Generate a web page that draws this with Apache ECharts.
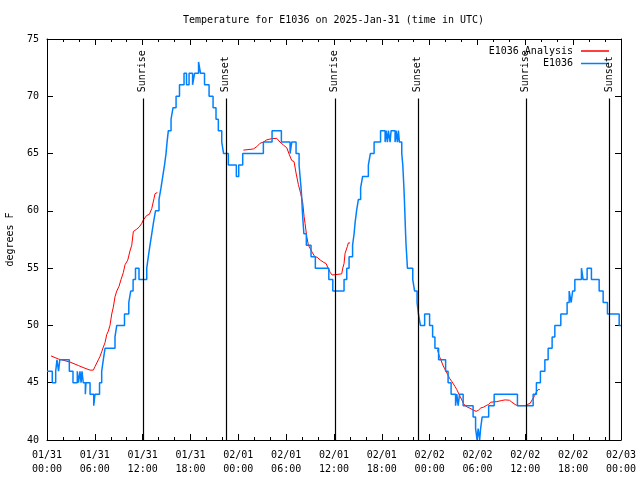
<!DOCTYPE html>
<html><head><meta charset="utf-8">
<script src="https://cdn.jsdelivr.net/npm/echarts@6/dist/echarts.min.js"></script>
<style>html,body{margin:0;padding:0;background:#fff}#c{width:640px;height:480px}</style>
</head><body><div id="c"></div>
<script>
// hours since 2025-01-31 00:00 UTC
const obsHours = [0,0.66,1.09,1.25,1.45,1.6,2.80,3.26,3.80,3.95,4.14,4.27,4.39,4.55,4.81,4.89,5.40,5.86,6.02,6.59,6.86,7.06,7.28,8.53,8.75,9.72,10.26,10.50,10.80,11.10,11.54,12.51,12.71,12.92,13.14,13.36,13.61,14.05,14.30,14.52,14.74,14.93,15.06,15.22,15.56,15.81,16.19,16.62,17.19,17.50,17.82,18.26,18.51,19.01,19.26,19.76,20.33,20.83,21.20,21.49,21.92,22.15,22.75,23.75,24.05,24.55,27.14,28.23,29.40,30.49,30.70,31.24,31.62,31.74,31.87,31.96,32.03,32.12,32.22,32.53,33.12,33.66,35.35,35.85,37.26,37.60,37.89,38.33,38.52,38.65,38.83,39.06,39.34,39.59,40.31,40.56,41.03,41.84,42.41,42.53,42.70,42.82,43.04,43.16,43.66,43.79,43.95,44.08,44.20,44.50,44.63,44.70,44.77,44.83,44.88,44.93,44.98,45.04,45.13,45.21,45.88,46.11,46.42,46.59,46.84,47.37,47.99,48.37,48.66,49.12,50.00,50.31,50.69,51.25,51.40,51.57,51.75,52.20,53.45,53.76,53.95,54.08,54.27,54.39,54.58,55.40,56.09,59.01,60.98,61.39,61.89,62.45,62.86,63.36,63.70,64.45,65.24,65.50,65.75,65.93,66.21,67.04,67.25,67.75,68.29,69.26,69.76,70.30,71.77,72.0];
const obsTemps = [46,45,46,47,46,47,46,45,46,45,46,45,46,45,44,45,44,43,44,45,46,47,48,49,50,51,52,53,54,55,54,55,56,57,58,59,60,61,62,63,64,65,66,67,68,69,70,71,72,71,72,71,72,73,72,71,70,69,68,67,66,65,64,63,64,65,66,67,66,65,66,65,64,63,62,61,60,59,58,57,56,55,54,53,54,55,56,57,58,59,60,61,62,63,64,65,66,67,66,67,66,67,66,67,66,67,66,67,66,65,64,63,62,61,60,59,58,57,56,55,54,53,52,51,50,51,50,49,48,47,46,45,44,43,44,43,44,43,42,41,40,41,40,41,42,43,44,43,44,45,46,47,48,49,50,51,52,53,52,53,54,55,54,55,54,53,52,51,50,50];

const anaHours = [0.50,1.42,1.84,2.89,3.93,4.77,5.40,5.81,6.02,6.44,6.65,6.86,7.06,7.28,7.49,7.69,7.90,8.12,8.32,8.53,8.75,9.03,9.28,9.57,9.79,10.13,10.41,10.63,10.83,11.25,11.58,11.88,12.08,12.51,12.84,13.14,13.43,13.55,13.84,
  19.0,
  24.63,25.88,26.31,26.73,27.14,27.57,28.19,28.82,29.23,29.65,30.08,30.40,30.70,30.99,31.24,31.53,31.83,32.08,32.25,32.37,32.58,32.79,33.25,33.59,33.88,34.29,34.72,35.01,35.26,35.55,35.76,36.97,37.10,37.26,37.39,37.52,37.68,37.80,38.02,
  43.0,
  48.97,49.22,49.40,49.65,49.85,50.06,50.28,50.48,50.78,50.98,51.19,51.40,51.61,51.82,52.03,52.23,52.45,52.74,53.07,53.49,53.83,54.12,54.42,54.74,55.08,55.37,55.67,56.42,57.05,57.47,58.01,58.31,58.72,59.01,59.97,60.26,60.60,60.76,60.98,61.19,61.39,61.61,61.82];
const anaTemps = [47.34,47.07,47.0,46.8,46.5,46.26,46.1,46.1,46.4,47.0,47.3,47.7,48.1,48.5,49.2,49.5,50.0,51.0,51.6,52.5,53.0,53.4,54.0,54.6,55.3,55.7,56.5,57.0,58.2,58.4,58.6,58.9,59.2,59.6,59.7,60.2,61.1,61.5,61.6,
  null,
  65.3,65.4,65.6,65.9,66.0,66.2,66.3,66.33,66.0,65.75,65.5,64.9,64.4,64.3,63.3,62.3,61.5,60.7,59.5,58.9,57.75,57.0,56.4,56.0,55.95,55.7,55.5,55.4,55.0,54.6,54.4,54.5,55.0,55.4,56.3,56.4,56.9,57.2,57.2,
  null,
  47.9,47.3,47.0,46.55,46.26,46.1,45.7,45.4,45.1,44.95,44.66,44.4,44.1,43.8,43.5,43.2,43.0,42.86,42.77,42.6,42.5,42.6,42.8,42.86,43.0,43.1,43.3,43.35,43.45,43.5,43.47,43.3,43.1,43.0,43.0,43.1,43.2,43.35,43.65,43.9,44.2,44.4,44.4];

const sunHours = [12.08, 22.50, 36.10, 46.55, 60.10, 70.55];
const sunLabels = ['Sunrise','Sunset','Sunrise','Sunset','Sunrise','Sunset'];
const xTickLabels = ['01/31\n00:00','01/31\n06:00','01/31\n12:00','01/31\n18:00','02/01\n00:00','02/01\n06:00','02/01\n12:00','02/01\n18:00','02/02\n00:00','02/02\n06:00','02/02\n12:00','02/02\n18:00','02/03\n00:00'];

const FONT = 'DejaVu Sans Mono';
const chart = echarts.init(document.getElementById('c'), null, {renderer: 'canvas'});

function xAxisCfg(pos, showLabel) {
  return {
    type: 'value', position: pos, min: 0, max: 72, interval: 6,
    axisLine: {show: true, onZero: false, lineStyle: {color: '#000', width: 1}},
    axisTick: {show: true, inside: true, length: 6, lineStyle: {color: '#000'}},
    minorTick: {show: true, splitNumber: 3, length: 3, lineStyle: {color: '#000'}},
    splitLine: {show: false}, minorSplitLine: {show: false},
    axisLabel: {show: showLabel, fontFamily: FONT, fontSize: 10, color: '#000', lineHeight: 14, margin: 8,
      formatter: v => xTickLabels[Math.round(v / 6)]}
  };
}
function yAxisCfg(pos, showLabel) {
  const c = {
    type: 'value', position: pos, min: 40, max: 75, interval: 5,
    axisLine: {show: true, onZero: false, lineStyle: {color: '#000', width: 1}},
    axisTick: {show: true, inside: true, length: 6, lineStyle: {color: '#000'}},
    splitLine: {show: false},
    axisLabel: {show: showLabel, fontFamily: FONT, fontSize: 10, color: '#000', margin: 8}
  };
  if (showLabel) {
    c.name = 'degrees F'; c.nameLocation = 'middle'; c.nameGap = 32; c.nameRotate = 90;
    c.nameTextStyle = {fontFamily: FONT, fontSize: 10, color: '#000'};
  }
  return c;
}

chart.setOption({
  animation: false,
  backgroundColor: '#fff',
  title: {text: 'Temperature for E1036 on 2025-Jan-31 (time in UTC)', left: 183, top: 15, padding: 0,
    textStyle: {fontFamily: FONT, fontSize: 10, fontWeight: 'normal', color: '#000'}},
  legend: {data: ['E1036 Analysis', 'E1036'], orient: 'vertical', align: 'right', right: 31, top: 46, padding: 0,
    icon: 'rect', itemWidth: 28, itemHeight: 1.5, itemGap: 2.5,
    textStyle: {fontFamily: FONT, fontSize: 10, color: '#000', padding: [0, 3, 0, 0]}},
  grid: {left: 47, right: 19, top: 39, bottom: 40, outerBoundsMode: 'none', containLabel: false},
  xAxis: [xAxisCfg('bottom', true), xAxisCfg('top', false)],
  yAxis: [yAxisCfg('left', true), yAxisCfg('right', false)],
  series: [
    {name: 'E1036 Analysis', type: 'line', symbol: 'none', z: 2, connectNulls: false,
      data: anaHours.map((h, i) => [h, anaTemps[i] == null ? '-' : anaTemps[i]]),
      lineStyle: {color: '#ff0000', width: 1}, itemStyle: {color: '#ff0000'}},
    {name: 'E1036', type: 'line', symbol: 'none', step: 'end', z: 3,
      data: obsHours.map((h, i) => [h, obsTemps[i]]),
      lineStyle: {color: '#0080ff', width: 1.5}, itemStyle: {color: '#0080ff'}},
    {name: 'sun', type: 'scatter', symbolSize: 1, z: 4, silent: true,
      itemStyle: {color: 'rgba(0,0,0,0)'},
      data: sunHours.map(h => [h, 70.3]),
      label: {show: true, position: [0, 0], rotate: 90, align: 'left', verticalAlign: 'middle',
        fontFamily: FONT, fontSize: 10, color: '#000', opacity: 1, formatter: p => sunLabels[p.dataIndex]},
      markLine: {silent: true, symbol: ['none', 'none'], label: {show: false},
        lineStyle: {color: '#000', width: 1.2, type: 'solid', opacity: 1},
        data: sunHours.map(h => [{coord: [h, 40]}, {coord: [h, 69.8]}])}}
  ]
});
</script>
</body></html>
